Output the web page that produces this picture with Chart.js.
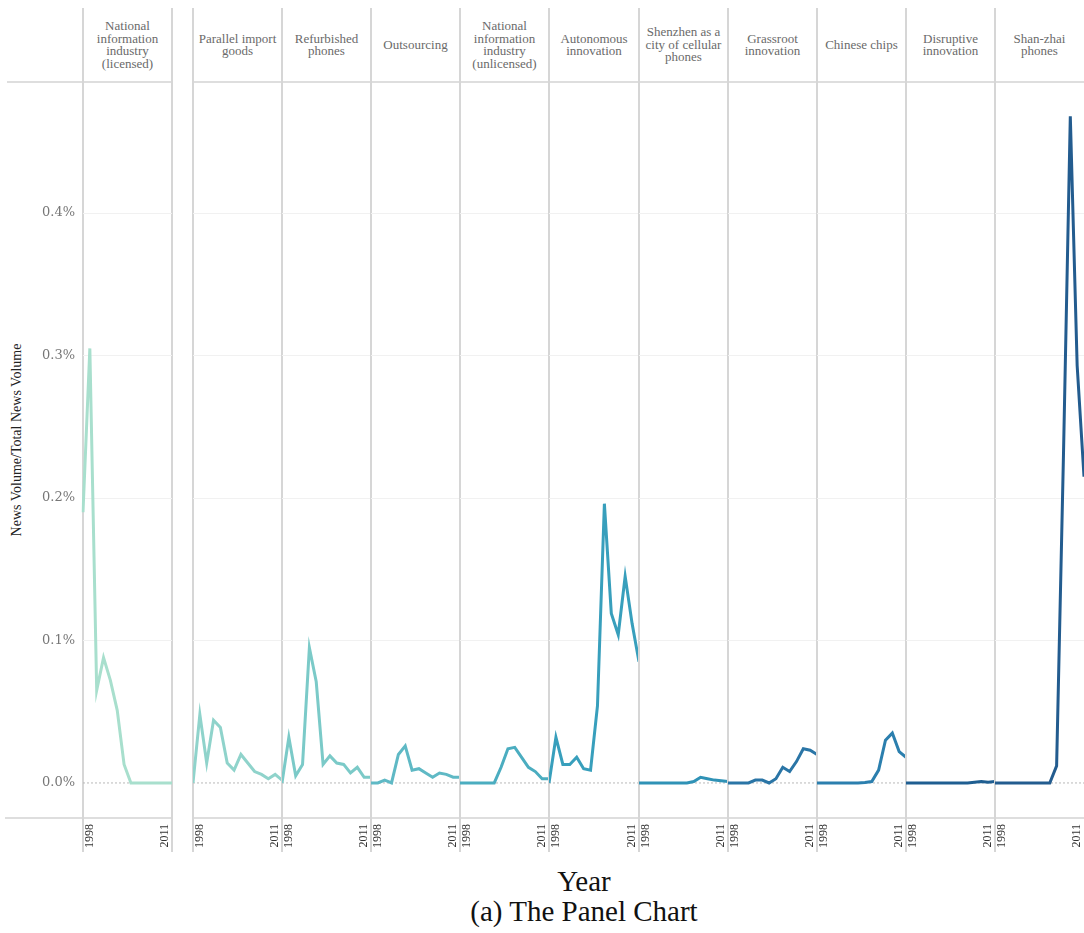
<!DOCTYPE html>
<html>
<head>
<meta charset="utf-8">
<script src="https://cdn.jsdelivr.net/npm/chart.js@4.4.1/dist/chart.umd.min.js"></script>
<style>
  body { margin: 0; background: #fff; }
  #wrap { position: relative; width: 1084px; height: 933px; overflow: hidden; background: #fff; }
  .panel { position: absolute; }
  .head { position: absolute; top: 8px; height: 74px; display: flex; align-items: center; justify-content: center;
          text-align: center; font: 13px/12.5px "Liberation Serif", serif; color: #6a6a6a; }
  .vline { position: absolute; width: 2px; background: #d6d6d6; }
  .hline { position: absolute; height: 2px; background: #dedede; }
  #ytitle { position: absolute; left: 17px; top: 440px; transform: translate(-50%, -50%) rotate(-90deg);
            white-space: nowrap; font: 14px "Liberation Serif", serif; color: #222; }
  .xtitle { position: absolute; left: 0; width: 1168px; text-align: center; font-family: "Liberation Serif", serif; color: #111; font-size: 29px; }
</style>
</head>
<body>
<div id="wrap">
  <div id="ytitle">News Volume/Total News Volume</div>
  <div class="xtitle" style="top:865px;">Year</div>
  <div class="xtitle" style="top:895px;">(a) The Panel Chart</div>
</div>
<script>
// years on every panel
const years = [1998, 1999, 2000, 2001, 2002, 2003, 2004, 2005, 2006, 2007, 2008, 2009, 2010, 2011];

// news volume / total news volume, in %
const licensed      = [0.19, 0.305, 0.065, 0.088, 0.072, 0.051, 0.013, 0, 0, 0, 0, 0, 0, 0];
const parallelGoods = [0, 0.048, 0.014, 0.044, 0.039, 0.014, 0.009, 0.020, 0.014, 0.008, 0.006, 0.003, 0.006, 0.002];
const refurbished   = [0, 0.032, 0.005, 0.013, 0.095, 0.071, 0.013, 0.019, 0.014, 0.013, 0.007, 0.011, 0.004, 0.004];
const outsourcing   = [0, 0, 0.002, 0, 0.020, 0.026, 0.009, 0.010, 0.007, 0.004, 0.007, 0.006, 0.004, 0.004];
const unlicensed    = [0, 0, 0, 0, 0, 0, 0.011, 0.024, 0.025, 0.018, 0.011, 0.008, 0.003, 0.003];
const autonomous    = [0, 0.032, 0.013, 0.013, 0.018, 0.010, 0.009, 0.054, 0.196, 0.119, 0.104, 0.145, 0.112, 0.085];
const shenzhen      = [0, 0, 0, 0, 0, 0, 0, 0, 0.001, 0.004, 0.003, 0.002, 0.0015, 0.001];
const grassroot     = [0, 0, 0, 0, 0.002, 0.002, 0, 0.003, 0.011, 0.008, 0.015, 0.024, 0.023, 0.020];
const chineseChips  = [0, 0, 0, 0, 0, 0, 0, 0.0003, 0.001, 0.009, 0.030, 0.035, 0.022, 0.018];
const disruptive    = [0, 0, 0, 0, 0, 0, 0, 0, 0, 0, 0.0005, 0.001, 0.0005, 0.001];
const shanzhai      = [0, 0, 0, 0, 0, 0, 0, 0, 0, 0.012, 0.23, 0.468, 0.293, 0.215];

const panelTitles = [
  ['National', 'information', 'industry', '(licensed)'],
  ['Parallel import', 'goods'],
  ['Refurbished', 'phones'],
  ['Outsourcing'],
  ['National', 'information', 'industry', '(unlicensed)'],
  ['Autonomous', 'innovation'],
  ['Shenzhen as a', 'city of cellular', 'phones'],
  ['Grassroot', 'innovation'],
  ['Chinese chips'],
  ['Disruptive', 'innovation'],
  ['Shan-zhai', 'phones']
];
const panelValues = [licensed, parallelGoods, refurbished, outsourcing, unlicensed, autonomous,
                     shenzhen, grassroot, chineseChips, disruptive, shanzhai];
const panelColors = ['#a8dfcd', '#8fd3cb', '#7bcac8', '#5fb9c5', '#4badc0', '#389fbc',
                     '#2f92b6', '#2a75a6', '#2b7fae', '#1f5e91', '#235c8f'];

const yTicks = [0, 0.1, 0.2, 0.3, 0.4];
const yMin = -0.0246, yMax = 0.492;

const wrap = document.getElementById('wrap');
const PLOT_TOP = 82, PLOT_BOTTOM = 818, CANVAS_BOTTOM = 860;

// panel edges: first panel stands alone, then ten panels side by side
const edges = [[83, 172]];
for (let p = 0; p < 10; p++) {
  edges.push([Math.round(193 + 89.1 * p), Math.round(193 + 89.1 * (p + 1))]);
}

function addDiv(cls, style, html) {
  const d = document.createElement('div');
  d.className = cls;
  Object.assign(d.style, style);
  if (html) d.innerHTML = html;
  wrap.appendChild(d);
  return d;
}

// frame lines
addDiv('hline', { left: '7px', top: (PLOT_TOP - 1) + 'px', width: '165px' });
addDiv('hline', { left: '193px', top: (PLOT_TOP - 1) + 'px', width: '891px' });
addDiv('hline', { left: '5px', top: (PLOT_BOTTOM - 1) + 'px', width: '167px' });
addDiv('hline', { left: '193px', top: (PLOT_BOTTOM - 1) + 'px', width: '891px' });

const panelDecor = {
  id: 'panelDecor',
  beforeDatasetsDraw(chart) {
    const { ctx, chartArea: a, scales: { y } } = chart;
    const y0 = y.getPixelForValue(0);
    ctx.save();
    ctx.strokeStyle = '#b8b8b8';
    ctx.lineWidth = 1;
    ctx.setLineDash([2, 2]);
    ctx.beginPath();
    ctx.moveTo(a.left, y0);
    ctx.lineTo(a.right, y0);
    ctx.stroke();
    ctx.restore();
  },
  afterDraw(chart) {
    const { ctx, chartArea: a, scales: { x } } = chart;
    ctx.save();
    ctx.font = '12px "Liberation Serif"';
    ctx.fillStyle = '#333';
    ctx.textAlign = 'right';
    ctx.textBaseline = 'middle';
    [[0, 7], [years.length - 1, -7]].forEach(([i, dx]) => {
      ctx.save();
      ctx.translate(x.getPixelForValue(i) + dx, a.bottom + 6);
      ctx.rotate(-Math.PI / 2);
      ctx.fillText(String(years[i]), 0, 0);
      ctx.restore();
    });
    ctx.restore();
  }
};

panelValues.forEach((values, p) => {
  const [l, r] = edges[p];
  const first = p === 0;
  const left = first ? 0 : l;
  const width = r - left;

  addDiv('head', { left: l + 'px', width: (r - l) + 'px' }, panelTitles[p].join('<br>'));
  addDiv('vline', { left: (l - 1) + 'px', top: '8px', height: '844px' });
  if (p < 10) addDiv('vline', { left: (r - 1) + 'px', top: '8px', height: '844px' });

  const box = document.createElement('div');
  box.className = 'panel';
  Object.assign(box.style, { left: left + 'px', top: PLOT_TOP + 'px', width: width + 'px', height: (CANVAS_BOTTOM - PLOT_TOP) + 'px' });
  const cv = document.createElement('canvas');
  cv.width = width;
  cv.height = CANVAS_BOTTOM - PLOT_TOP;
  box.appendChild(cv);
  wrap.appendChild(box);

  new Chart(cv, {
    type: 'line',
    data: {
      labels: years,
      datasets: [{
        data: values,
        borderColor: panelColors[p],
        borderWidth: 3,
        pointRadius: 0,
        tension: 0,
        fill: false
      }]
    },
    options: {
      responsive: false,
      animation: false,
      events: [],
      layout: { padding: { top: 0, right: 0, left: 0, bottom: CANVAS_BOTTOM - PLOT_BOTTOM } },
      plugins: { legend: { display: false }, tooltip: { enabled: false } },
      scales: {
        x: { type: 'category', display: false, offset: false },
        y: {
          min: yMin,
          max: yMax,
          afterBuildTicks: s => { s.ticks = yTicks.map(v => ({ value: v })); },
          afterFit: s => {
            s.width = first ? l : 0;
            s.paddingTop = 0;
            s.paddingBottom = 0;
          },
          border: { display: false },
          grid: {
            drawTicks: false,
            color: ctx => (ctx.tick && ctx.tick.value === 0) ? 'rgba(0,0,0,0)' : '#f1f1f1',
            lineWidth: 1
          },
          ticks: {
            display: first,
            padding: 8,
            color: '#777',
            font: { family: 'DejaVu Serif', size: 13 },
            callback: v => v.toFixed(1) + '%'
          }
        }
      }
    },
    plugins: [panelDecor]
  });
});
</script>
</body>
</html>
